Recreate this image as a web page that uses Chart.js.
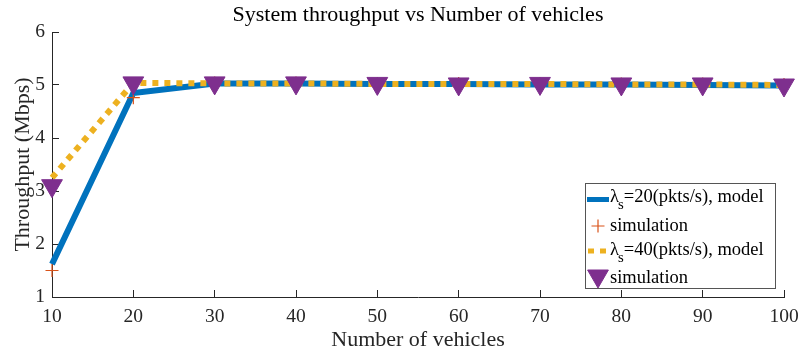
<!DOCTYPE html>
<html>
<head>
<meta charset="utf-8">
<title>System throughput vs Number of vehicles</title>
<script src="https://cdn.jsdelivr.net/npm/chart.js@4.4.1/dist/chart.umd.min.js"></script>
<style>
  html, body { margin: 0; padding: 0; background: #fff; }
  #wrap { width: 800px; height: 356px; position: relative; }
</style>
</head>
<body>
<div id="wrap"><canvas id="chart" width="800" height="356"></canvas></div>
<script>
// Number of vehicles on the x axis
const vehicles = [10, 20, 30, 40, 50, 60, 70, 80, 90, 100];

// Throughput (Mbps), analytical model and simulation for two packet rates
const model20 = [1.62, 4.85, 5.03, 5.03, 5.02, 5.02, 5.01, 5.01, 5.00, 4.99];
const sim20   = [1.50, 4.76, 5.04, 5.04, 5.03, 5.03, 5.03, 5.02, 5.02, 5.01];
const model40 = [3.25, 5.04, 5.03, 5.03, 5.02, 5.02, 5.02, 5.01, 5.01, 5.00];
const sim40   = [3.10, 5.04, 5.04, 5.04, 5.03, 5.02, 5.03, 5.02, 5.02, 5.00];

// Tick values
const xTicks = [10, 20, 30, 40, 50, 60, 70, 80, 90, 100];
const yTicks = [1, 2, 3, 4, 5, 6];

// Series names ("_" marks a one-letter subscript)
const seriesNames = ['λ_s=20(pkts/s), model', 'simulation', 'λ_s=40(pkts/s), model', 'simulation'];

const FONT = 'Liberation Serif';
const AXIS = '#262626';
const C_BLUE = '#0072BD', C_ORANGE = '#D95319', C_YELLOW = '#EDB120', C_PURPLE = '#7E2F8E';

const pts = arr => vehicles.map((x, i) => ({ x, y: arr[i] }));

// Draws text where "_c" renders c as a subscript
function drawTexLine(ctx, str, x, y, size) {
  let cx = x;
  for (let i = 0; i < str.length; i++) {
    const ch = str[i];
    if (ch === '_' && i + 1 < str.length) {
      ctx.font = `${size * 0.8}px "${FONT}"`;
      const sub = str[i + 1];
      ctx.fillText(sub, cx - 1, y + size * 0.38);
      cx += ctx.measureText(sub).width - 1;
      i++;
    } else {
      ctx.font = `${size}px "${FONT}"`;
      ctx.fillText(ch, cx, y);
      cx += ctx.measureText(ch).width;
    }
  }
}

// Boxed legend in the lower right corner
const boxLegend = {
  id: 'boxLegend',
  afterDraw(chart) {
    const ctx = chart.ctx;
    const bx = 585.5, by = 183.5, bw = 190, bh = 105;
    ctx.save();
    ctx.fillStyle = '#fff';
    ctx.fillRect(bx, by, bw, bh);
    ctx.strokeStyle = '#555';
    ctx.lineWidth = 1;
    ctx.strokeRect(bx, by, bw, bh);

    const iconX = 598, textX = 610, size = 18.5;
    const rows = [
      { base: 202, icon: 199.5 },
      { base: 231, icon: 226 },
      { base: 255, icon: 251 },
      { base: 283, icon: 276 }
    ];
    const ds = chart.data.datasets;

    // row 1: solid line
    ctx.strokeStyle = ds[0].borderColor;
    ctx.lineWidth = 5;
    ctx.lineCap = 'butt';
    ctx.beginPath();
    ctx.moveTo(587, rows[0].icon); ctx.lineTo(609, rows[0].icon);
    ctx.stroke();

    // row 2: cross marker
    ctx.strokeStyle = ds[1].pointBorderColor;
    ctx.lineWidth = 1.2;
    ctx.beginPath();
    ctx.moveTo(iconX - 6.5, rows[1].icon); ctx.lineTo(iconX + 6.5, rows[1].icon);
    ctx.moveTo(iconX, rows[1].icon - 6.5); ctx.lineTo(iconX, rows[1].icon + 6.5);
    ctx.stroke();

    // row 3: dotted line
    ctx.strokeStyle = ds[2].borderColor;
    ctx.lineWidth = 5;
    ctx.setLineDash([6, 6]);
    ctx.beginPath();
    ctx.moveTo(588, rows[2].icon); ctx.lineTo(607, rows[2].icon);
    ctx.stroke();
    ctx.setLineDash([]);

    // row 4: downward triangle
    ctx.fillStyle = ds[3].pointBackgroundColor;
    ctx.strokeStyle = ds[3].pointBorderColor;
    ctx.lineWidth = 1;
    Chart.helpers.drawPoint(ctx, { pointStyle: 'triangle', radius: 12, borderWidth: 1, rotation: 180 }, iconX, rows[3].icon);

    ctx.fillStyle = '#000';
    ctx.textBaseline = 'alphabetic';
    ctx.textAlign = 'left';
    seriesNames.forEach((name, i) => drawTexLine(ctx, name, textX, rows[i].base, size));
    ctx.restore();
  }
};

new Chart(document.getElementById('chart'), {
  type: 'line',
  data: {
    datasets: [
      {
        label: seriesNames[0], data: pts(model20),
        borderColor: C_BLUE, borderWidth: 6, pointRadius: 0, tension: 0,
        order: 4, clip: false
      },
      {
        label: seriesNames[1], data: pts(sim20), showLine: false,
        pointStyle: 'cross', pointRadius: 6.5, pointBorderWidth: 1.2,
        pointBorderColor: C_ORANGE, borderColor: C_ORANGE,
        order: 3, clip: false
      },
      {
        label: seriesNames[2], data: pts(model40),
        borderColor: C_YELLOW, borderWidth: 6, borderDash: [6, 6], borderCapStyle: 'butt',
        pointRadius: 0, tension: 0,
        order: 2, clip: false
      },
      {
        label: seriesNames[3], data: pts(sim40), showLine: false,
        pointStyle: 'triangle', pointRotation: 180, pointRadius: 12, pointBorderWidth: 1,
        pointBackgroundColor: C_PURPLE, pointBorderColor: C_PURPLE, borderColor: C_PURPLE,
        order: 1, clip: false
      }
    ]
  },
  options: {
    responsive: false,
    animation: false,
    devicePixelRatio: 1,
    layout: { padding: { left: 0, right: 16, top: 0, bottom: 0 } },
    plugins: {
      legend: { display: false },
      tooltip: { enabled: false },
      title: {
        display: true,
        text: 'System throughput vs Number of vehicles',
        fullSize: false,
        color: '#000',
        font: { family: FONT, size: 22, weight: 'normal' },
        padding: { top: 1.8, bottom: 3.8 }
      }
    },
    scales: {
      x: {
        type: 'linear', min: 10, max: 100,
        afterBuildTicks: s => { s.ticks = xTicks.map(v => ({ value: v })); },
        afterFit: s => { s.height = 59; s.paddingLeft = 0; s.paddingRight = 0; },
        grid: { drawOnChartArea: false, tickLength: -7, color: AXIS, tickColor: AXIS, lineWidth: 1 },
        border: { color: AXIS, width: 1 },
        ticks: { padding: 15, color: AXIS, font: { family: FONT, size: 19.5 }, maxRotation: 0, autoSkip: false },
        title: {
          display: true, text: 'Number of vehicles', color: AXIS,
          font: { family: FONT, size: 22 }, padding: { top: 0, bottom: 2.3 }
        }
      },
      y: {
        type: 'linear', min: 1, max: 6,
        afterBuildTicks: s => { s.ticks = yTicks.map(v => ({ value: v })); },
        afterFit: s => { s.width = 52; s.paddingTop = 0; s.paddingBottom = 0; },
        grid: { drawOnChartArea: false, tickLength: -7, color: AXIS, tickColor: AXIS, lineWidth: 1 },
        border: { color: AXIS, width: 1 },
        ticks: { padding: 14, color: AXIS, font: { family: FONT, size: 19.5 } },
        title: {
          display: true, text: 'Throughput (Mbps)', color: AXIS,
          font: { family: FONT, size: 22 }, padding: { top: 10.5, bottom: 0 }
        }
      }
    }
  },
  plugins: [boxLegend]
});
</script>
</body>
</html>
